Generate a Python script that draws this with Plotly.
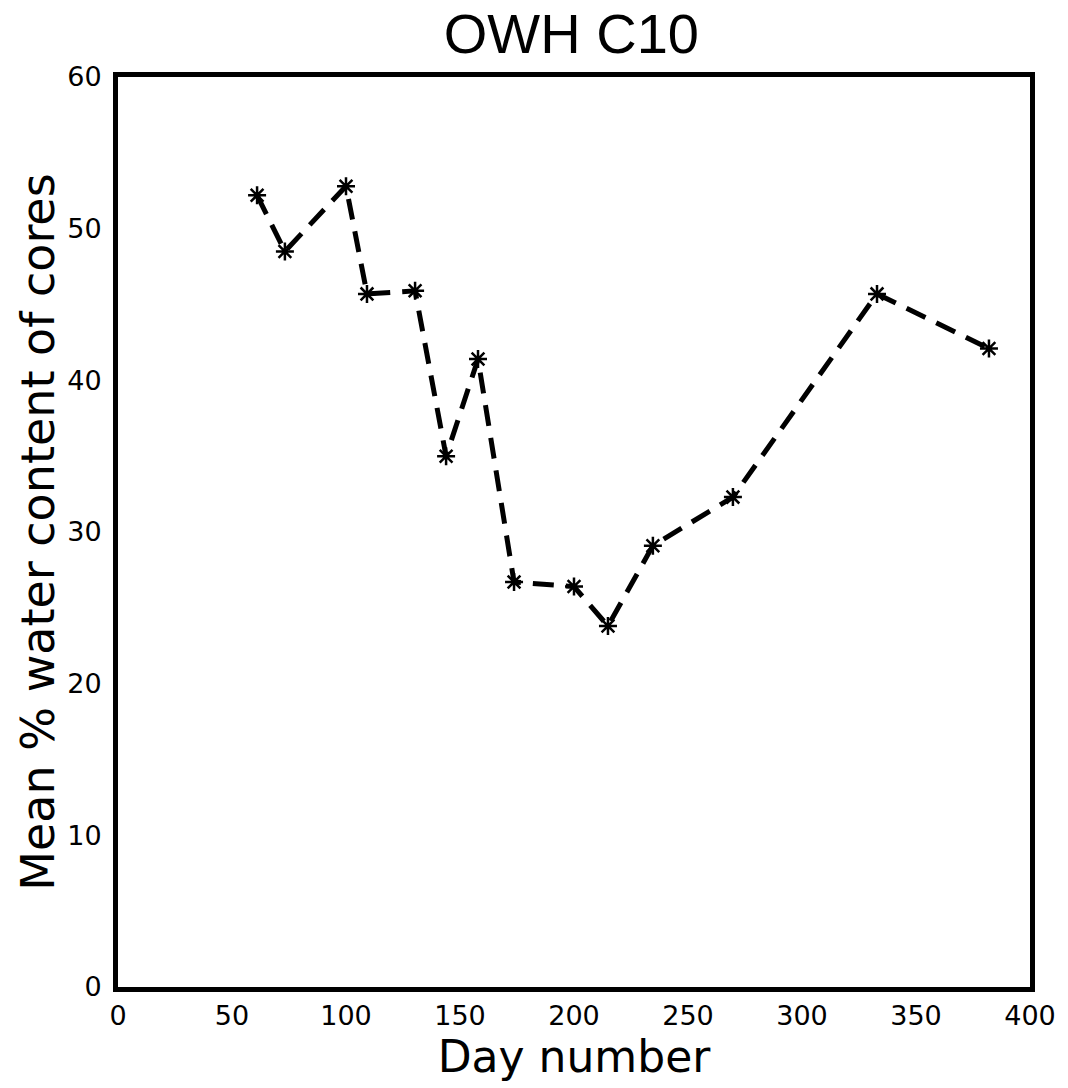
import plotly.graph_objects as go

days = [61, 73.2, 100, 109.2, 130.3, 143.9, 157.9, 173.7, 200, 214.9, 234.6, 269.7, 332.9, 382]
water = [52.2, 48.5, 52.8, 45.7, 45.9, 35.0, 41.4, 26.7, 26.4, 23.8, 29.1, 32.3, 45.7, 42.1]

x_ticks = [0, 50, 100, 150, 200, 250, 300, 350, 400]
y_ticks = [0, 10, 20, 30, 40, 50, 60]

fig = go.Figure()
fig.add_trace(go.Scatter(
    x=days, y=water, mode="lines+markers",
    line=dict(color="black", width=5, dash="21px,12px"),
    marker=dict(symbol="asterisk-open", size=15, color="black",
                line=dict(color="black", width=2.5)),
    showlegend=False,
))

fig.update_layout(
    width=1068, height=1088,
    margin=dict(l=118, r=38, t=77, b=101),
    paper_bgcolor="white", plot_bgcolor="white",
    title=dict(text="OWH C10", x=0.535, xanchor="center", y=0.969, yanchor="middle",
               font=dict(family="Liberation Sans", size=56, color="black")),
    font=dict(family="DejaVu Sans", color="black"),
)
fig.update_xaxes(
    range=[0, 400], tickvals=x_ticks, ticktext=[str(v) for v in x_ticks],
    showgrid=False, zeroline=False, showline=True, linecolor="black", linewidth=5,
    mirror=True, ticks="", ticklabelstandoff=1, automargin=False,
    tickfont=dict(family="DejaVu Sans", size=27, color="black"),
    title=dict(text="Day number", font=dict(family="DejaVu Sans", size=44, color="black"), standoff=12),
)
fig.update_yaxes(
    range=[0, 60], tickvals=y_ticks, ticktext=[str(v) for v in y_ticks],
    showgrid=False, zeroline=False, showline=True, linecolor="black", linewidth=5,
    mirror=True, ticks="", ticklabelstandoff=6, automargin=False,
    tickfont=dict(family="DejaVu Sans", size=27, color="black"),
    title=dict(text="Mean % water content of cores", font=dict(family="DejaVu Sans", size=46, color="black"), standoff=0),
)

fig.write_html("out.html")
